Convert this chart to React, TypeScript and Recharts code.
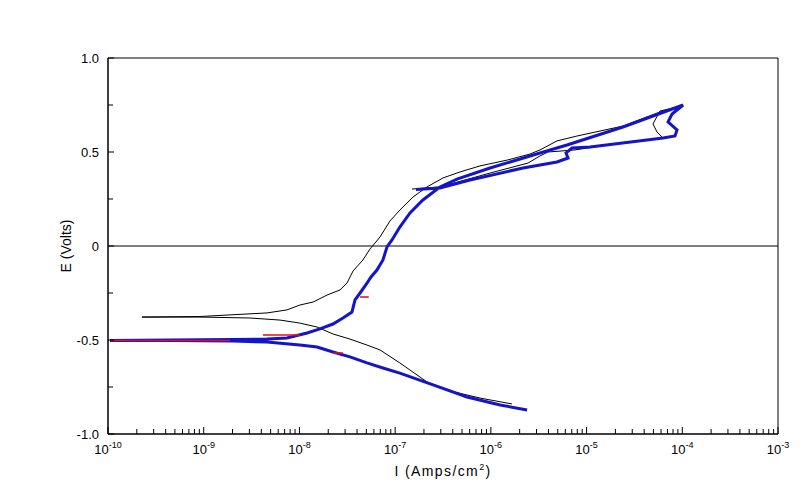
import React from 'react';
import { LineChart, Line, XAxis, YAxis, ReferenceLine, ReferenceArea, Label } from 'recharts';

// Current density (A/cm^2), potential (V) pairs
const blackScan: [number, number][] = [
  [1.66e-6, -0.84], [7.71e-7, -0.809], [3.74e-7, -0.771], [2.15e-7, -0.723], [1.12e-7, -0.622],
  [6.95e-8, -0.553], [5.08e-8, -0.527], [3.37e-8, -0.495], [2.24e-8, -0.468], [1.53e-8, -0.431],
  [1.01e-8, -0.41], [6.27e-9, -0.394], [3.05e-9, -0.383], [9.14e-10, -0.378], [2.26e-10, -0.378],
  [9.14e-10, -0.375], [4.58e-9, -0.356], [7.41e-9, -0.34], [1.01e-8, -0.314], [1.39e-8, -0.298],
  [1.94e-8, -0.261], [2.65e-8, -0.234], [3.14e-8, -0.197], [3.63e-8, -0.133], [4.61e-8, -0.074],
  [5.46e-8, -0.016], [6.95e-8, 0.048], [8.83e-8, 0.133], [1.12e-7, 0.191], [1.54e-7, 0.261],
  [2.15e-7, 0.314], [3.16e-7, 0.362], [4.77e-7, 0.394], [7.71e-7, 0.426], [1.48e-6, 0.457],
  [2.56e-6, 0.489], [3.26e-6, 0.511], [4.91e-6, 0.559], [7.94e-6, 0.585], [2.4e-5, 0.638],
  [5.45e-5, 0.707], [8.81e-5, 0.739], [5.85e-5, 0.718], [4.94e-5, 0.649], [5.45e-5, 0.606],
  [6.3e-5, 0.574], [2.23e-5, 0.548], [7.57e-6, 0.511], [3.95e-6, 0.5], [3.26e-6, 0.479],
  [2.44e-6, 0.441], [9.8e-7, 0.388], [2.94e-7, 0.314], [1.5e-7, 0.303],
];

const blueScan: [number, number][] = [
  [2.39e-6, -0.872], [1.25e-6, -0.846], [5.64e-7, -0.803], [2.49e-7, -0.739], [1.12e-7, -0.676],
  [7.46e-8, -0.649], [5.08e-8, -0.622], [3.37e-8, -0.59], [2.24e-8, -0.564], [1.53e-8, -0.537],
  [1.01e-8, -0.527], [4.58e-9, -0.511], [2.02e-9, -0.505], [4.44e-10, -0.503], [1.05e-10, -0.503],
  [4.44e-10, -0.5], [2.02e-9, -0.497], [4.58e-9, -0.495], [7.41e-9, -0.489], [1.2e-8, -0.463],
  [1.64e-8, -0.441], [2.24e-8, -0.415], [2.85e-8, -0.383], [3.54e-8, -0.351], [3.81e-8, -0.287],
  [4.3e-8, -0.25], [5.08e-8, -0.197], [5.6e-8, -0.165], [6.45e-8, -0.128], [7.46e-8, -0.074],
  [8.22e-8, -0.005], [9.27e-8, 0.032], [1.12e-7, 0.101], [1.43e-7, 0.176], [1.95e-7, 0.245],
  [2.94e-7, 0.314], [4.43e-7, 0.356], [9.8e-7, 0.415], [3.26e-6, 0.495], [6.25e-6, 0.537],
  [2.4e-5, 0.633], [1.02e-4, 0.75], [7.82e-5, 0.702], [7.1e-5, 0.66], [8.81e-5, 0.617],
  [8.39e-5, 0.585], [6.3e-5, 0.574], [1.09e-5, 0.527], [7.05e-6, 0.521], [6.1e-6, 0.495],
  [6.4e-6, 0.468], [4.91e-6, 0.447], [2.17e-6, 0.415], [6.05e-7, 0.351], [2.94e-7, 0.309],
  [1.65e-7, 0.3],
];

const redScan: [number, number | null][] = [
  [1.05e-10, -0.503], [5e-10, -0.502], [1.88e-9, -0.503], [1.9e-9, null],
  [4.16e-9, -0.473], [1.01e-8, -0.473], [1.02e-8, null],
  [2.24e-8, -0.569], [2.85e-8, -0.569], [2.9e-8, null],
  [4.3e-8, -0.271], [5.3e-8, -0.271],
];

const xMajorTicks = [1e-10, 1e-9, 1e-8, 1e-7, 1e-6, 1e-5, 1e-4, 1e-3];
const xMinorMultipliers = [2, 3, 4, 5, 6, 7, 8, 9];
const yTicks = [-1, -0.75, -0.5, -0.25, 0, 0.25, 0.5, 0.75, 1];
const yTickLabels: Record<string, string> = { '1': '1.0', '0.5': '0.5', '0': '0', '-0.5': '-0.5', '-1': '-1.0' };

const toRows = (arr: [number, number | null][]) => arr.map(([i, e]) => ({ i, e }));
const blackData = toRows(blackScan);
const blueData = toRows(blueScan);
const redData = toRows(redScan);

const xTicks: number[] = [];
xMajorTicks.forEach((t, k) => {
  xTicks.push(t);
  if (k < xMajorTicks.length - 1) {
    const exp = Math.round(Math.log10(t));
    xMinorMultipliers.forEach((m) => xTicks.push(Number(`${m}e${exp}`)));
  }
});

const FONT = 'Liberation Sans, Arial, sans-serif';

const XTick = (props: any) => {
  const { x, y, payload } = props;
  const v = payload.value as number;
  const lg = Math.log10(v);
  const major = Math.abs(lg - Math.round(lg)) < 1e-6;
  return (
    <g>
      <line x1={x} x2={x} y1={y} y2={y - (major ? 7 : 5)} stroke="#000" strokeWidth={1} />
      {major && (
        <text x={x} y={y + 20} textAnchor="middle" fontFamily={FONT} fontSize={13} fill="#000">
          <tspan>10</tspan>
          <tspan dy={-6} fontSize={9}>{String(Math.round(lg))}</tspan>
        </text>
      )}
    </g>
  );
};

const YTick = (props: any) => {
  const { x, y, payload } = props;
  const v = payload.value as number;
  const label = yTickLabels[String(v)];
  const major = label !== undefined;
  return (
    <g>
      <line x1={x} x2={x + (major ? 6 : 5)} y1={y} y2={y} stroke="#000" strokeWidth={1} />
      {major && (
        <text x={x - 9} y={y + 4.5} textAnchor="end" fontFamily={FONT} fontSize={13} fill="#000">
          {label}
        </text>
      )}
    </g>
  );
};

const XTitle = (props: any) => {
  const { viewBox } = props;
  const cx = viewBox.x + viewBox.width / 2;
  return (
    <text x={cx} y={viewBox.y + 42} textAnchor="middle" fontFamily={FONT} fontSize={14} letterSpacing={1.4} fill="#000">
      <tspan>I (Amps/cm</tspan>
      <tspan dy={-6} fontSize={9}>2</tspan>
      <tspan dy={6}>)</tspan>
    </text>
  );
};

const YTitle = (props: any) => {
  const { viewBox } = props;
  const cx = viewBox.x + 23;
  const cy = viewBox.y + viewBox.height / 2;
  return (
    <text x={cx} y={cy} transform={`rotate(-90 ${cx} ${cy})`} textAnchor="middle" fontFamily={FONT} fontSize={14} fill="#000">
      E (Volts)
    </text>
  );
};

export default function App() {
  return (
    <div style={{ width: 801, height: 483, background: '#fff' }}>
      <LineChart width={801} height={483} margin={{ top: 50, right: 31, left: 40, bottom: 17 }}>
        <XAxis
          type="number"
          dataKey="i"
          scale="log"
          domain={[1e-10, 1e-3]}
          allowDataOverflow
          ticks={xTicks}
          interval={0}
          tick={<XTick />}
          tickLine={false}
          tickSize={0}
          tickMargin={0}
          height={40}
          axisLine={{ stroke: '#000' }}
        >
          <Label content={<XTitle />} />
        </XAxis>
        <YAxis
          type="number"
          domain={[-1, 1]}
          allowDataOverflow
          ticks={yTicks}
          interval={0}
          tick={<YTick />}
          tickLine={false}
          tickSize={0}
          tickMargin={0}
          width={60}
          axisLine={{ stroke: '#000' }}
        >
          <Label content={<YTitle />} />
        </YAxis>
        <ReferenceArea x1={1e-10} x2={1e-3} y1={-1} y2={1} fill="none" stroke="#000" strokeWidth={1} fillOpacity={0} />
        <ReferenceLine y={0} stroke="#000" strokeWidth={1} />
        <Line data={blackData} dataKey="e" type="linear" stroke="#000" strokeWidth={1} dot={false} isAnimationActive={false} />
        <Line data={blueData} dataKey="e" type="linear" stroke="#1414c8" strokeWidth={3} dot={false} isAnimationActive={false} />
        <Line data={redData} dataKey="e" type="linear" stroke="#e01010" strokeWidth={1.5} dot={false} isAnimationActive={false} />
      </LineChart>
    </div>
  );
}
